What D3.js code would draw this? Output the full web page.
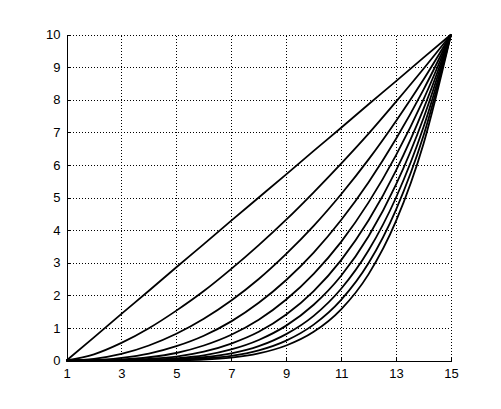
<!DOCTYPE html>
<html><head><meta charset="utf-8">
<script src="https://cdn.jsdelivr.net/npm/d3@7"></script>
<style>body{margin:0;background:#fff}svg{display:block}</style>
</head><body>
<script>
const xValues = [1,2,3,4,5,6,7,8,9,10,11,12,13,14,15];
const xTicks = [1,3,5,7,9,11,13,15];
const yTicks = [0,1,2,3,4,5,6,7,8,9,10];
const curve1 = [0,0.71,1.43,2.14,2.86,3.57,4.29,5.00,5.71,6.43,7.14,7.86,8.57,9.29,10];
const curve2 = [0,0.19,0.54,0.99,1.53,2.13,2.81,3.54,4.32,5.16,6.04,6.96,7.94,8.95,10];
const curve3 = [0,0.05,0.20,0.46,0.82,1.28,1.84,2.50,3.27,4.13,5.10,6.17,7.35,8.62,10];
const curve4 = [0,0.01,0.08,0.21,0.44,0.76,1.20,1.77,2.47,3.31,4.31,5.47,6.80,8.31,10];
const curve5 = [0,0,0.03,0.10,0.23,0.46,0.79,1.25,1.87,2.66,3.64,4.85,6.30,8.01,10];
const curve6 = [0,0,0.01,0.05,0.12,0.27,0.52,0.88,1.41,2.13,3.08,4.30,5.83,7.72,10];
const curve7 = [0,0,0,0.02,0.07,0.16,0.34,0.63,1.07,1.71,2.60,3.81,5.40,7.44,10];
const curve8 = [0,0,0,0.01,0.04,0.10,0.22,0.44,0.81,1.37,2.20,3.38,5.00,7.16,10];
const curve9 = [0,0,0,0,0.02,0.06,0.14,0.31,0.61,1.10,1.86,2.99,4.63,6.90,10];
const curve10 = [0,0,0,0,0.01,0.03,0.09,0.22,0.46,0.88,1.57,2.65,4.28,6.65,10];
const curves = [curve1,curve2,curve3,curve4,curve5,curve6,curve7,curve8,curve9,curve10];

const W = 501, H = 409;
const svg = d3.select("body").append("svg").attr("width", W).attr("height", H);
const x = d3.scaleLinear().domain([1,15]).range([66.5, 451]);
const y = d3.scaleLinear().domain([0,10]).range([360.5, 34.5]);

// grid
const grid = svg.append("g").attr("stroke", "#000").attr("stroke-width", 1).attr("stroke-dasharray", "1,2").attr("shape-rendering","crispEdges");
grid.selectAll(".gx").data(xTicks.slice(1)).enter().append("line")
  .attr("x1", d => Math.round(x(d))+0.5).attr("x2", d => Math.round(x(d))+0.5)
  .attr("y1", y(0)).attr("y2", y(10));
grid.selectAll(".gy").data(yTicks.slice(1)).enter().append("line")
  .attr("y1", d => Math.round(y(d))+0.5).attr("y2", d => Math.round(y(d))+0.5)
  .attr("x1", x(1)).attr("x2", x(15));

// curves
const line = d3.line().x((d,i) => x(xValues[i])).y(d => y(d)).curve(d3.curveMonotoneX);
svg.append("g").selectAll("path").data(curves).enter().append("path")
  .attr("d", line).attr("fill","none").attr("stroke","#000").attr("stroke-width",1.8);

// axes
const fontFam = "'Liberation Sans', Arial, Helvetica, sans-serif";
const xAxis = d3.axisBottom(x).tickValues(xTicks).tickSize(-4).tickPadding(8).tickFormat(d3.format("d"));
const yAxis = d3.axisLeft(y).tickValues(yTicks).tickSize(-4).tickPadding(8).tickFormat(d3.format("d"));
const gx = svg.append("g").attr("transform", `translate(0,${y(0)})`).call(xAxis);
const gy = svg.append("g").attr("transform", `translate(${x(1)},0)`).call(yAxis);
[gx, gy].forEach(g => {
  g.select(".domain").attr("stroke","#000").attr("stroke-width",1).attr("shape-rendering","crispEdges");
  g.selectAll(".tick line").attr("stroke","#000").attr("shape-rendering","crispEdges");
  g.selectAll("text").attr("fill","#000").style("font-family", fontFam).style("font-size","13px");
});
gy.selectAll("text").attr("dx", "2");
</script>
</body></html>
